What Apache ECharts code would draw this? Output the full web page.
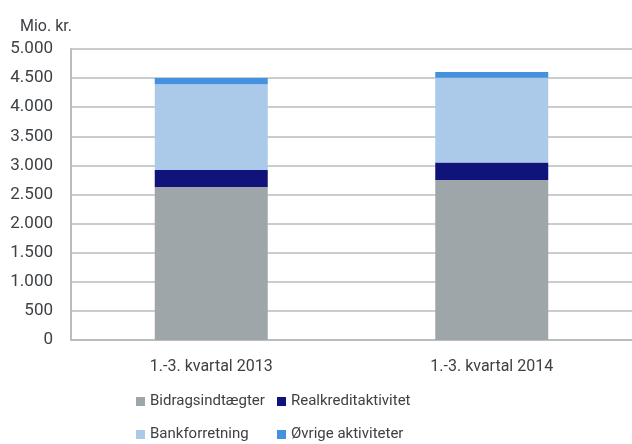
<!DOCTYPE html>
<html>
<head>
<meta charset="utf-8">
<script src="https://cdn.jsdelivr.net/npm/echarts@6/dist/echarts.min.js"></script>
<style>
  html, body { margin: 0; padding: 0; background: #fff; }
  #chart { width: 632px; height: 444px; }
</style>
</head>
<body>
<div id="chart"></div>
<script>
// categories and series values (mio. kr.)
const categories = ['1.-3. kvartal 2013', '1.-3. kvartal 2014'];
const bidrag = [2630, 2750];
const realkredit = [290, 300];
const bank = [1475, 1455];
const oevrige = [105, 100];

const seriesNames = ['Bidragsindtægter', 'Realkreditaktivitet', 'Bankforretning', 'Øvrige aktiviteter'];
const seriesColors = ['#9fa6a9', '#10137a', '#abc9e9', '#4391df'];

window.onload = function () {
    const chart = echarts.init(document.getElementById('chart'));
    const font = 'Roboto';
    const textColor = '#3d4145';
    const gridColor = '#b9bdc0';

    const legendText = { fontFamily: font, fontSize: 15, color: textColor, lineHeight: 15 };

    const option = {
        animation: false,
        title: {
            text: 'Mio. kr.',
            left: 15, top: 14,
            textStyle: { fontFamily: font, fontSize: 16, fontWeight: 'normal', color: textColor }
        },
        legend: [
            {
                data: [seriesNames[0], seriesNames[2]],
                orient: 'vertical', left: 136, top: 394, height: 50, padding: 0,
                itemWidth: 9, itemHeight: 9, itemGap: 18, icon: 'rect',
                textStyle: legendText
            },
            {
                data: [seriesNames[1], seriesNames[3]],
                orient: 'vertical', left: 277, top: 394, height: 50, padding: 0,
                itemWidth: 9, itemHeight: 9, itemGap: 18, icon: 'rect',
                textStyle: legendText
            }
        ],
        grid: { left: 71, right: 0, top: 49, bottom: 104, containLabel: false },
        xAxis: {
            type: 'category',
            data: categories,
            axisLine: { lineStyle: { color: gridColor, width: 2 } },
            axisTick: { show: false },
            axisLabel: { fontFamily: font, fontSize: 16, color: textColor, margin: 19 }
        },
        yAxis: {
            type: 'value',
            min: 0, max: 5000, interval: 500,
            axisLine: { show: true, lineStyle: { color: gridColor, width: 2 } },
            axisTick: { show: false },
            splitLine: { lineStyle: { color: gridColor, width: 1.5 } },
            axisLabel: {
                fontFamily: font, fontSize: 17, color: textColor, margin: 18,
                formatter: v => v.toString().replace(/\B(?=(\d{3})+(?!\d))/g, '.')
            }
        },
        series: [bidrag, realkredit, bank, oevrige].map((vals, i) => ({
            name: seriesNames[i],
            type: 'bar',
            stack: 'total',
            barWidth: 113,
            data: vals,
            itemStyle: { color: seriesColors[i] }
        }))
    };
    chart.setOption(option);
};
</script>
</body>
</html>
